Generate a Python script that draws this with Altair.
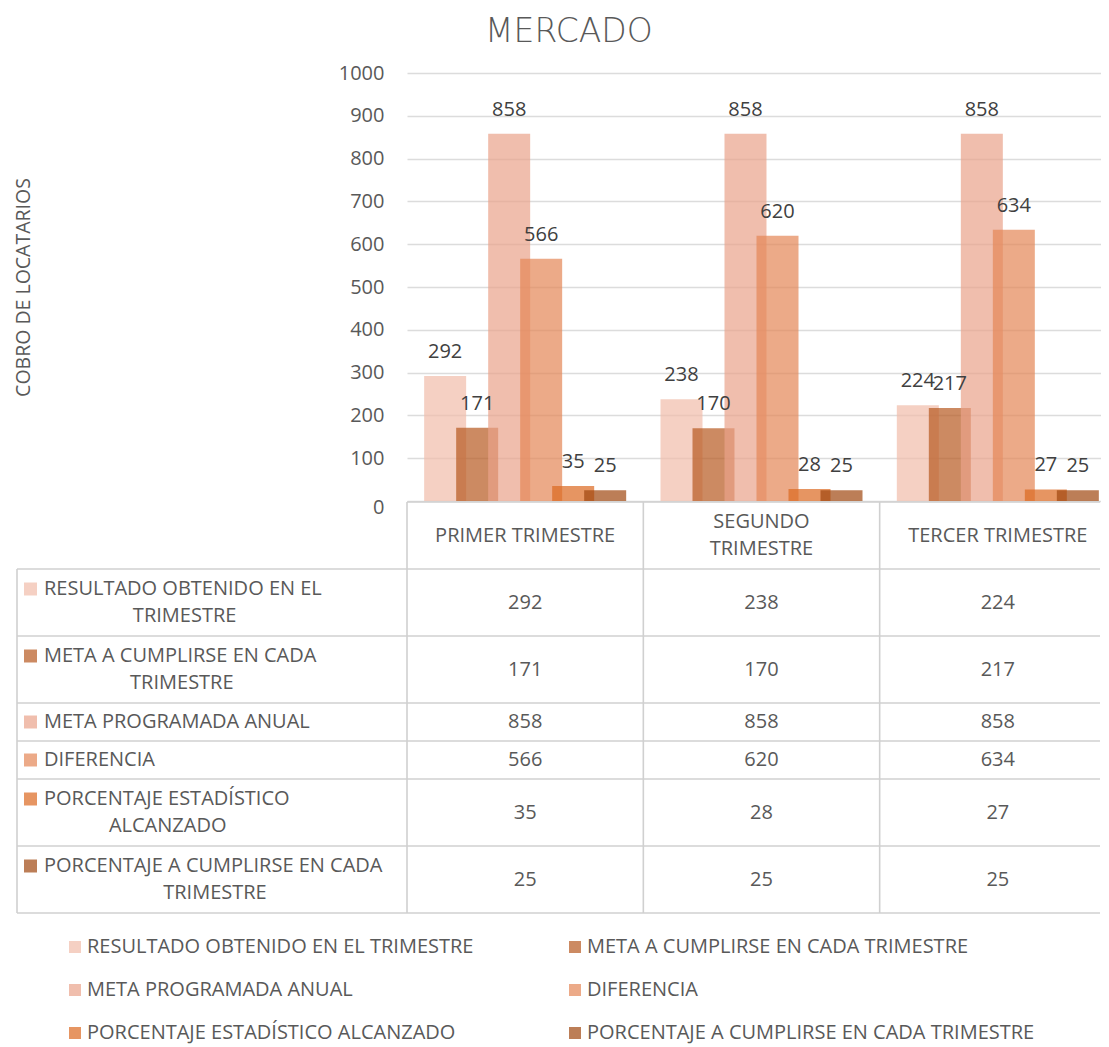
import altair as alt
import pandas as pd

# ---------------- data ----------------
categories = ["PRIMER TRIMESTRE", "SEGUNDO TRIMESTRE", "TERCER TRIMESTRE"]
header_lines = [["PRIMER TRIMESTRE"], ["SEGUNDO", "TRIMESTRE"], ["TERCER TRIMESTRE"]]
series_names = [
    "RESULTADO OBTENIDO EN EL TRIMESTRE",
    "META A CUMPLIRSE EN CADA TRIMESTRE",
    "META PROGRAMADA ANUAL",
    "DIFERENCIA",
    "PORCENTAJE ESTADÍSTICO ALCANZADO",
    "PORCENTAJE A CUMPLIRSE EN CADA TRIMESTRE",
]
row_label_lines = [
    ["RESULTADO OBTENIDO EN EL", "TRIMESTRE"],
    ["META A CUMPLIRSE EN CADA", "TRIMESTRE"],
    ["META PROGRAMADA ANUAL"],
    ["DIFERENCIA"],
    ["PORCENTAJE ESTADÍSTICO", "ALCANZADO"],
    ["PORCENTAJE A CUMPLIRSE EN CADA", "TRIMESTRE"],
]
resultado = [292, 238, 224]
meta_trimestre = [171, 170, 217]
meta_anual = [858, 858, 858]
diferencia = [566, 620, 634]
porc_alcanzado = [35, 28, 27]
porc_trimestre = [25, 25, 25]
series_values = [resultado, meta_trimestre, meta_anual, diferencia, porc_alcanzado, porc_trimestre]
y_ticks = list(range(0, 1001, 100))

# ---------------- styles ----------------
FONT = "Open Sans"
TXT = "#595959"
LINE = "#D0D0D0"
ALPHA = 0.7
observed_colors = ["#F5D0C3", "#CC8A62", "#F0BEAD", "#ECAA88", "#E69562", "#BC7E57"]


def base_color(hexc, a=ALPHA):
    r, g, b = (int(hexc[i:i + 2], 16) for i in (1, 3, 5))
    f = lambda c: max(0, min(255, round((c - (1 - a) * 255) / a)))
    return "#%02X%02X%02X" % (f(r), f(g), f(b))


colors = [base_color(c) for c in observed_colors]
color_scale = alt.Scale(domain=series_names, range=colors)

FULL_W = 709          # width of the three category columns
VIS_W = 693           # part of it that fits in the window
PLOT_H = 428
COL_W = FULL_W / 3.0
LABEL_COL_PX = 390
VIS_U = VIS_W / COL_W

# ---------------- bar chart ----------------
bars_df = pd.DataFrame(
    [
        {"cat": c, "serie": s, "value": v}
        for s, vals in zip(series_names, series_values)
        for c, v in zip(categories, vals)
    ]
)

enc = dict(
    x=alt.X("cat:N", sort=categories,
            scale=alt.Scale(paddingInner=0.1875, paddingOuter=0.09375, range=[0, FULL_W]),
            axis=None),
    xOffset=alt.XOffset("serie:N", sort=series_names,
                        scale=alt.Scale(paddingInner=0, paddingOuter=0)),
    y=alt.Y("value:Q", scale=alt.Scale(domain=[0, 1000], nice=False),
            axis=alt.Axis(values=y_ticks, format="d", title="COBRO DE LOCATARIOS", domain=False,
                          ticks=False, labelPadding=23, labelFont=FONT, labelFontSize=20,
                          labelColor=TXT, gridColor="#DCDCDC", gridWidth=1.3,
                          labelOffset=alt.condition("datum.value == 0", alt.value(6), alt.value(0)),
                          titleFont=FONT, titleFontSize=19.5, titleFontWeight="normal",
                          titleColor=TXT, titleX=-378, titleY=PLOT_H / 2,
                          titleBaseline="alphabetic")),
)

bars = alt.Chart(bars_df).mark_bar(width=42, opacity=ALPHA).encode(
    color=alt.Color("serie:N", scale=color_scale, legend=None), **enc
)
bar_labels = alt.Chart(bars_df).mark_text(
    dy=-18, baseline="alphabetic", font=FONT, fontSize=20, color="#404040"
).encode(text=alt.Text("value:Q"), **enc)

top = alt.layer(bars, bar_labels).properties(width=VIS_W, height=PLOT_H)

# ---------------- data table ----------------
H1, H2 = 38, 67
LH = 27
line_counts = [2] + [len(l) for l in row_label_lines]
heights = [H2 if n == 2 else H1 for n in line_counts]
bounds = [0]
for h in heights:
    bounds.append(bounds[-1] + h)
TOTAL = bounds[-1]
centers = [(bounds[i] + bounds[i + 1]) / 2 for i in range(len(heights))]
LEFT = -LABEL_COL_PX / COL_W
RIGHT = min(3, VIS_U)

xs = alt.Scale(domain=[0, 3], range=[0, FULL_W], nice=False, zero=False)
ys = alt.Scale(domain=[0, TOTAL], nice=False, zero=False, reverse=True)
X = lambda f: alt.X(f, scale=xs, axis=None)
Y = lambda f: alt.Y(f, scale=ys, axis=None)

h_rows = [{"x": 0, "x2": RIGHT, "y": 0}] + [{"x": LEFT, "x2": RIGHT, "y": b} for b in bounds[1:]]
v_rows = [{"x": LEFT, "y": bounds[1], "y2": TOTAL}] + [
    {"x": i, "y": 0, "y2": TOTAL} for i in range(4) if i <= VIS_U]

hlines = alt.Chart(pd.DataFrame(h_rows)).mark_rule(color=LINE, strokeWidth=1.6).encode(
    x=X("x:Q"), x2="x2:Q", y=Y("y:Q"))
vlines = alt.Chart(pd.DataFrame(v_rows)).mark_rule(color=LINE, strokeWidth=1.6).encode(
    x=X("x:Q"), y=Y("y:Q"), y2="y2:Q")


def line_ys(center, n):
    return [center + (k - (n - 1) / 2) * LH for k in range(n)]


head_rows = []
for i, lines in enumerate(header_lines):
    for t, yy in zip(lines, line_ys(centers[0], len(lines))):
        head_rows.append({"x": i + 0.5, "y": yy, "t": t})
header = alt.Chart(pd.DataFrame(head_rows)).mark_text(
    font=FONT, fontSize=20, color=TXT, baseline="middle"
).encode(x=X("x:Q"), y=Y("y:Q"), text="t:N")

val_rows = []
for j, vals in enumerate(series_values):
    for i, v in enumerate(vals):
        val_rows.append({"x": i + 0.5, "y": centers[j + 1], "t": str(v)})
values_txt = alt.Chart(pd.DataFrame(val_rows)).mark_text(
    font=FONT, fontSize=20, color=TXT, baseline="middle"
).encode(x=X("x:Q"), y=Y("y:Q"), text="t:N")

# approximate Open Sans advance widths (em) to centre the second label line
W = {"A": .633, "B": .648, "C": .631, "D": .739, "E": .556, "F": .517, "G": .737, "H": .764,
     "I": .279, "Í": .279, "J": .266, "K": .600, "L": .519, "M": .941, "N": .786, "O": .794,
     "P": .602, "Q": .794, "R": .617, "S": .549, "T": .553, "U": .756, "V": .584, "W": .931,
     "X": .576, "Y": .557, "Z": .562, " ": .260}
text_w = lambda s: sum(W.get(ch, .6) for ch in s) * 20

KEY_PX = 31.5 - 408
TEXT_PX = 45 - 408
key_rows, lab_rows = [], []
for j, lines in enumerate(row_label_lines):
    ys_l = line_ys(centers[j + 1], len(lines))
    key_rows.append({"x": KEY_PX / COL_W, "y": ys_l[0], "serie": series_names[j]})
    lab_rows.append({"x": TEXT_PX / COL_W, "y": ys_l[0], "t": lines[0], "al": "left"})
    for t, yy in zip(lines[1:], ys_l[1:]):
        cx = TEXT_PX + text_w(lines[0]) / 2
        lab_rows.append({"x": cx / COL_W, "y": yy, "t": t, "al": "center"})

keys = alt.Chart(pd.DataFrame(key_rows)).mark_square(size=169, opacity=ALPHA).encode(
    x=X("x:Q"), y=Y("y:Q"),
    color=alt.Color("serie:N", scale=color_scale, legend=None))
lab_df = pd.DataFrame(lab_rows)
labels_left = alt.Chart(lab_df[lab_df.al == "left"]).mark_text(
    font=FONT, fontSize=20, color=TXT, baseline="middle", align="left"
).encode(x=X("x:Q"), y=Y("y:Q"), text="t:N")
labels_center = alt.Chart(lab_df[lab_df.al == "center"]).mark_text(
    font=FONT, fontSize=20, color=TXT, baseline="middle", align="center"
).encode(x=X("x:Q"), y=Y("y:Q"), text="t:N")

table = alt.layer(hlines, vlines, header, values_txt, keys, labels_left, labels_center).properties(
    width=VIS_W, height=TOTAL)

# ---------------- legend ----------------
leg_rows = [{"col": k % 2, "row": k // 2, "serie": s} for k, s in enumerate(series_names)]
leg_df = pd.DataFrame(leg_rows)
lxs = alt.Scale(domain=[0, 1], range=[76 - 408, 576 - 408])
lys = alt.Scale(domain=[0, 2], range=[33, 119])
leg_sq = alt.Chart(leg_df).mark_square(size=144, opacity=ALPHA).encode(
    x=alt.X("col:Q", scale=lxs, axis=None), y=alt.Y("row:Q", scale=lys, axis=None),
    color=alt.Color("serie:N", scale=color_scale, legend=None))
leg_tx = alt.Chart(leg_df).mark_text(
    font=FONT, fontSize=20, color=TXT, baseline="middle", align="left", dx=12
).encode(x=alt.X("col:Q", scale=lxs, axis=None), y=alt.Y("row:Q", scale=lys, axis=None),
         text="serie:N")
legend = alt.layer(leg_sq, leg_tx).properties(width=VIS_W, height=125)

chart = alt.vconcat(
    top, table, legend, spacing=1, bounds="flush",
    padding={"left": 5, "top": 8, "right": 0, "bottom": 8},
    title=alt.Title("MERCADO", font="DejaVu Sans", fontSize=33, fontWeight=300,
                    color=TXT, anchor="middle", offset=14, dx=12),
).resolve_scale(color="shared").configure_view(stroke=None)

chart.save("out.html", embed_options={"renderer": "svg", "actions": False})
